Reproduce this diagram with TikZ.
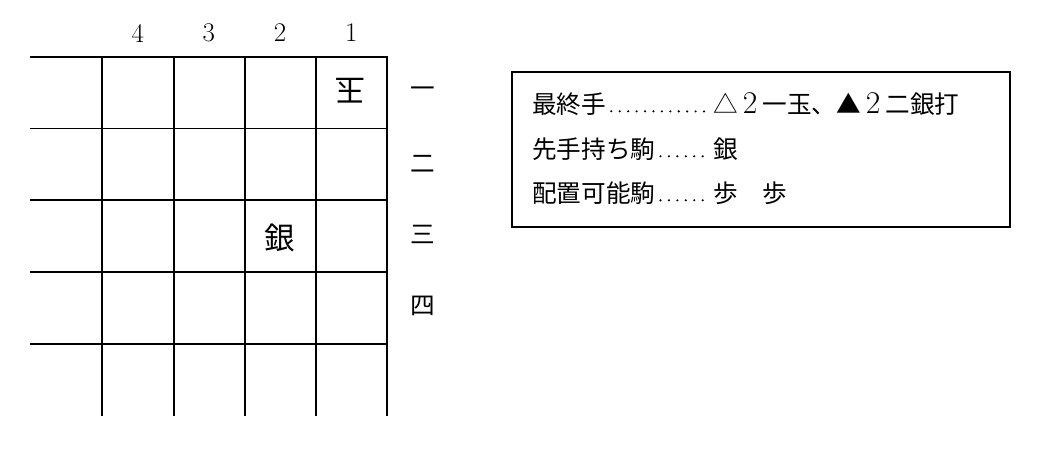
\documentclass[tikz,border=0pt]{standalone}
\usepackage{fontspec}
\newfontfamily\jp{Noto Sans CJK JP}
\usepackage{tikz}
\usetikzlibrary{positioning}
\newcommand{\zenkaku}[1]{\makebox[1em]{\rmfamily\fontsize{27pt}{30pt}\selectfont #1}}

\begin{document}
\begin{tikzpicture}[x=0.03cm,y=-0.03cm,
	grid/.style={line width=1.7pt,line cap=rect},
	koma/.style={font=\jp\fontsize{26pt}{30pt}\selectfont},
	suji/.style={font=\fontsize{23pt}{28pt}\selectfont},
	dan/.style={font=\jp\fontsize{21pt}{25pt}\selectfont},
	memo/.style={font=\jp\fontsize{21pt}{25pt}\selectfont,anchor=west,inner sep=0pt},
	leader/.style={line width=2pt,line cap=round,dash pattern=on 0pt off 7.2pt}]
\useasboundingbox (0,0) rectangle (1041,449);
% board
\foreach \y in {57,128.5,200,272,344}
	\draw[grid] (31,\y) -- (387,\y);
\foreach \x in {102,174,245,316,387}
	\draw[grid] (\x,57) -- (\x,415);
\foreach \n [count=\i] in {4,3,2,1}
	\node[suji] (s\n) at (66.5+71.2*\i,33) {\n};
\foreach \k [count=\i] in {一,二,三,四}
	\node[dan] (d\i) at (423,20.7+71.4*\i) {\k};
\node[koma,rotate=180] (gyoku) at (350,91) {玉};
\node[koma] (gin) at (280,238) {銀};
% memo
\draw[line width=1.2pt] (512,72) rectangle (1010,227);
\node[memo] (k1) at (532,104) {最終手};
\node[memo] (v1) at (713,104) {△\zenkaku{2}一玉、▲\zenkaku{2}二銀打};
\node[memo] (k2) at (532,149) {先手持ち駒};
\node[memo] (v2) at (713,149) {銀};
\node[memo] (k3) at (532,193) {配置可能駒};
\node[memo] (v3) at (713,193) {歩　歩};
\foreach \i in {1,2,3}
	\draw[leader] ([shift={(5,-2)}]k\i.base east) -- ([shift={(-4,-2)}]v\i.base west);
\end{tikzpicture}
\end{document}
